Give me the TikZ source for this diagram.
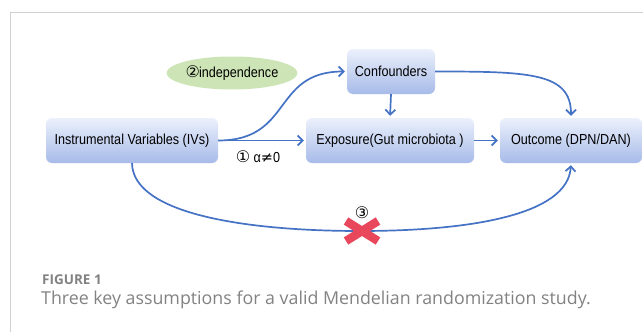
\documentclass[tikz,border=0pt]{standalone}
\usepackage{fontspec}
\usepackage{xcolor}
\usepackage{tikz}
\usetikzlibrary{arrows.meta,shapes.geometric}
\setmainfont{Liberation Sans}
\newfontfamily\boxfont[FakeStretch=0.87]{Liberation Sans}
\newfontfamily\symfont{DejaVu Sans}
\newfontfamily\capfont{Open Sans}
\definecolor{frame}{HTML}{D0D0D0}
\definecolor{link}{HTML}{4472C4}
\definecolor{boxtop}{HTML}{EBF0FB}
\definecolor{boxbot}{HTML}{A7BBE9}
\definecolor{indepfill}{HTML}{CDE5B6}
\definecolor{cross}{HTML}{E8475C}
\definecolor{captext}{HTML}{828282}
\tikzset{
  varbox/.style={rectangle, rounded corners=6pt, top color=boxtop, bottom color=boxbot,
    inner sep=0pt, font=\boxfont\fontsize{14.5}{16}\selectfont, text=black},
  arr/.style={-{Straight Barb[length=5pt,width=10pt]}, line width=1.7pt, draw=link,
    shorten >=2pt},
  note/.style={inner sep=1pt, font=\boxfont\fontsize{14.5}{16}\selectfont},
  caption/.style={anchor=base west, inner sep=0pt, text=captext}
}
\newcommand{\circnum}[1]{{\symfont\fontsize{16}{16}\selectfont#1}}

\begin{document}
\begin{tikzpicture}[x=1pt,y=-1pt]
  \useasboundingbox (0,0) rectangle (643,332);
  % frame of the figure panel
  \draw[frame, line width=1pt] (10.5,332) -- (10.5,12.5) -- (643,12.5);

  \node[varbox, minimum width=172pt, minimum height=45pt] (iv) at (132,140.5)
    {Instrumental Variables (IVs)};
  \node[varbox, minimum width=168pt, minimum height=45pt] (exposure) at (390,140.5)
    {Exposure(Gut microbiota )};
  \node[varbox, minimum width=142pt, minimum height=45pt] (outcome) at (571,140.5)
    {Outcome (DPN/DAN)};
  \node[varbox, minimum width=88pt, minimum height=45pt] (conf) at (391,71.5)
    {Confounders};
  \node[ellipse, fill=indepfill, inner sep=0pt, minimum width=121pt, minimum height=33pt,
    font=\boxfont\fontsize{14.5}{16}\selectfont] (indep) at (232,73)
    {\circnum{②}\kern-1pt independence};

  \draw[arr] (iv.east) -- (exposure.west);
  \draw[arr] (exposure.east) -- (outcome.west);
  \draw[arr] (conf.south) -- (exposure.north);
  \draw[arr] (iv.east) .. controls +(75,0) and +(-75,0) .. (conf.west);
  \draw[arr] (conf.east) .. controls +(95,0) and +(0,-45) .. (outcome.north);

  % exclusion path, cut by the cross
  \coordinate (low) at (360,231);
  \draw[arr] (iv.south) .. controls (133,215) and (250,231) .. (low)
    .. controls (470,231) and (568,215) .. (outcome.south);
  \draw[cross, line width=8.5pt] (346,221) -- (378,241) (346,241) -- (378,221);

  \node[note] (alpha) at (258,157) {\circnum{①} α\symfont≠\boxfont0};
  \node[inner sep=0pt] (three) at (362,213) {\circnum{③}};

  \node[caption, font=\capfont\bfseries\fontsize{13.5}{15}\selectfont] (fig) at (42,284) {FIGURE 1};
  \node[caption, font=\capfont\fontsize{17.8}{20}\selectfont] (captext) at (41,304)
    {Three key assumptions for a valid Mendelian randomization study.};
\end{tikzpicture}
\end{document}
